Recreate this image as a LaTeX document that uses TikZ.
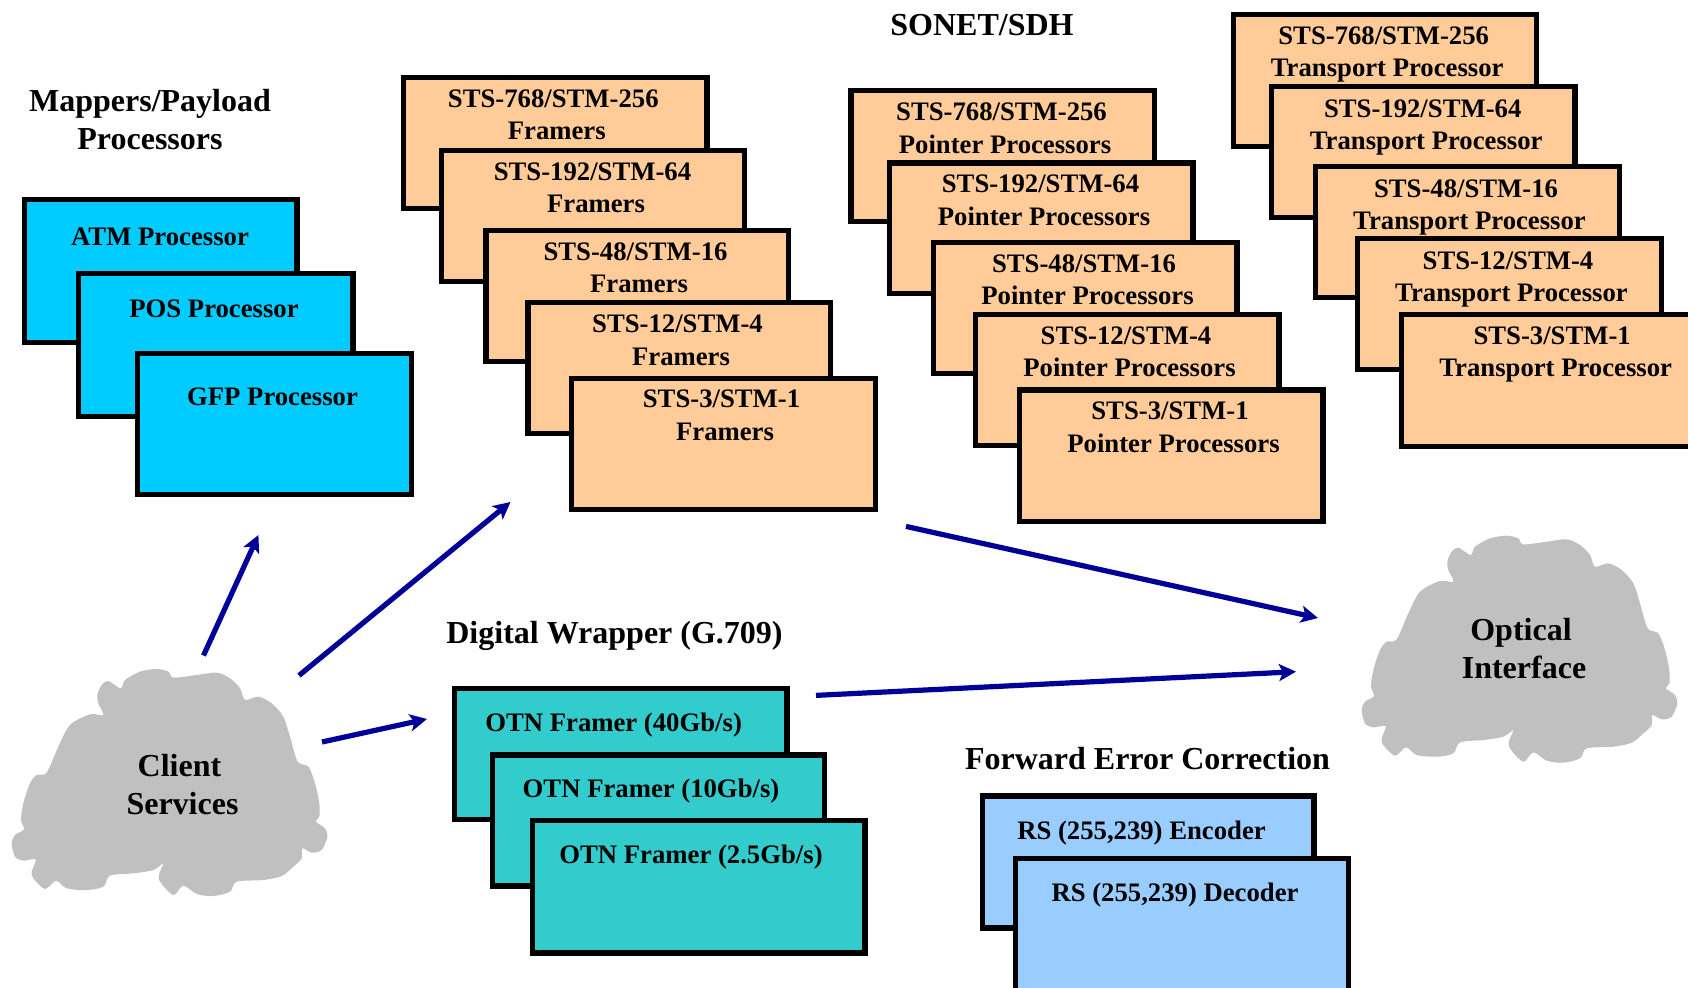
\documentclass[tikz,border=0pt]{standalone}
\usepackage{fontspec}
\setmainfont{Liberation Serif}
\usetikzlibrary{arrows.meta}
\definecolor{orangefill}{HTML}{FFCC99}
\definecolor{cyanfill}{HTML}{00CCFF}
\definecolor{tealfill}{HTML}{33CCCC}
\definecolor{skyfill}{HTML}{99CCFF}
\definecolor{cloudgray}{HTML}{C0C0C0}
\definecolor{arrowblue}{HTML}{000099}
\newcommand{\boxlabelstrut}{\rule{0pt}{10pt}}
\newcommand{\lineshift}{\hspace*{3.5pt}}
% name, fill, L, T, R, B, text cx, baseline offset, text
\newcommand{\stackbox}[9]{%
  \pgfmathsetmacro{\bw}{(#5-#3-5.2)*0.5}%
  \pgfmathsetmacro{\bh}{(#6-#4-5.2)*0.5}%
  \node[stackrect,fill=#2,minimum width=\bw pt,minimum height=\bh pt] (#1) at ({(#3+#5)/2},{(#4+#6)/2}) {};
  \node[boxlabel] (#1-label) at (#7,{#4+#8-19.2}) {\boxlabelstrut #9};
}
\newcommand{\cloudblob}[2]{%
  \begin{scope}[shift={(#1,#2)},x=0.16667pt,y=-0.16667pt]
    \fill[cloudgray] plot[smooth cycle,tension=0.5] coordinates {
      (310,285) (295,250) (292,225) (305,195) (325,183) (362,205) (375,180) (420,155) (470,147) (505,155) (520,173) (590,165) (650,158) (690,175) (720,205) (735,240) (775,230) (815,250) (850,290) (870,350) (893,425) (925,440) (945,490) (958,550) (958,590) (948,605) (975,625) (982,650) (965,690) (935,698) (907,685) (905,715) (880,740) (845,768) (790,780) (710,785) (690,815) (640,828) (590,822) (550,797) (520,825) (480,785) (478,760) (490,730) (460,750) (400,760) (330,767) (310,800) (260,810) (200,805) (168,782) (135,807) (100,775) (95,755) (107,718) (70,722) (45,710) (35,670) (45,645) (72,628) (63,600) (70,550) (90,490) (110,465) (140,458) (175,380) (210,315) (270,283)};
  \end{scope}
}
\tikzset{
  stackrect/.style={draw=black,line width=2.6pt,rectangle,inner sep=0pt,outer sep=0pt},
  boxlabel/.style={anchor=north,inner sep=0pt,align=center,font=\fontsize{13.35}{16.4}\selectfont\bfseries},
  heading/.style={anchor=north,inner sep=0pt,align=center,font=\fontsize{16}{19}\selectfont\bfseries},
  flow/.style={draw=arrowblue,line width=2.6pt,-{Stealth[length=8.5pt,width=8.5pt,inset=2pt]}}
}
\begin{document}
\begin{tikzpicture}[x=0.5pt,y=-0.5pt]
\useasboundingbox (0,0) rectangle (1688,988);
\clip (0,0) rectangle (1688,988);
\fill[white] (0,0) rectangle (1688,988);

% titles
\node[heading] (ttl-sonet) at (982,{35-22}) {\rule{0pt}{11pt}SONET/SDH};
\node[heading] (ttl-map) at (150,{110.5-22}) {\rule{0pt}{11pt}Mappers/Payload\\Processors};
\node[heading] (ttl-dw) at (614.5,{643-22}) {\rule{0pt}{11pt}Digital Wrapper (G.709)};
\node[heading] (ttl-fec) at (1147.5,{768.6-22}) {\rule{0pt}{11pt}Forward Error Correction};

% mappers
\stackbox{b1}{cyanfill}{22}{197}{299.5}{345.5}{160}{47}{ATM Processor}
\stackbox{b2}{cyanfill}{76}{271}{355.5}{419}{214}{45}{POS Processor}
\stackbox{b3}{cyanfill}{134.6}{351}{414}{497.5}{272.5}{53}{GFP Processor}

% framers
\stackbox{f1}{orangefill}{400.5}{75}{709.5}{211.4}{553.3}{31}{STS-768/STM-256\\\lineshift Framers}
\stackbox{f2}{orangefill}{439}{148}{747}{284.5}{592.5}{31}{STS-192/STM-64\\\lineshift Framers}
\stackbox{f3}{orangefill}{483.4}{228}{791.4}{364}{635.5}{31}{STS-48/STM-16\\\lineshift Framers}
\stackbox{f4}{orangefill}{525.3}{300.3}{833.3}{436.3}{677.5}{31}{STS-12/STM-4\\\lineshift Framers}
\stackbox{f5}{orangefill}{569}{375.7}{878}{512.5}{721.5}{31}{STS-3/STM-1\\\lineshift Framers}

% pointer processors
\stackbox{p1}{orangefill}{848.3}{88.3}{1157}{224.3}{1001.5}{31}{STS-768/STM-256\\\lineshift Pointer Processors}
\stackbox{p2}{orangefill}{887}{160.4}{1195.5}{296.4}{1040.5}{31}{STS-192/STM-64\\\lineshift Pointer Processors}
\stackbox{p3}{orangefill}{931}{240}{1239.5}{376}{1084}{31}{STS-48/STM-16\\\lineshift Pointer Processors}
\stackbox{p4}{orangefill}{973}{312}{1281.5}{448}{1126}{31}{STS-12/STM-4\\\lineshift Pointer Processors}
\stackbox{p5}{orangefill}{1017}{387.5}{1325.5}{524}{1170}{31}{STS-3/STM-1\\\lineshift Pointer Processors}

% transport processors
\stackbox{t1}{orangefill}{1231}{12}{1539}{149}{1383.7}{31}{STS-768/STM-256\\\lineshift Transport Processor}
\stackbox{t2}{orangefill}{1269}{84}{1577.5}{220.5}{1422.7}{32}{STS-192/STM-64\\\lineshift Transport Processor}
\stackbox{t3}{orangefill}{1313}{164}{1622}{300.5}{1466}{32}{STS-48/STM-16\\\lineshift Transport Processor}
\stackbox{t4}{orangefill}{1355}{236}{1664}{372.5}{1508}{32}{STS-12/STM-4\\\lineshift Transport Processor}
\stackbox{t5}{orangefill}{1399}{312}{1707}{449}{1552.2}{31}{STS-3/STM-1\\\lineshift Transport Processor}

% OTN
\stackbox{o1}{tealfill}{452}{686}{789.5}{822.5}{613.6}{44}{OTN Framer (40Gb/s)}
\stackbox{o2}{tealfill}{490}{752.5}{827}{888.5}{651}{44}{OTN Framer (10Gb/s)}
\stackbox{o3}{tealfill}{530}{818}{867.5}{955.5}{691}{44}{OTN Framer (2.5Gb/s)}

% FEC
\stackbox{r1}{skyfill}{979.5}{793.5}{1316.6}{930.5}{1141.5}{45}{RS (255,239) Encoder}
\stackbox{r2}{skyfill}{1013}{856}{1351}{1000}{1175}{44}{RS (255,239) Decoder}

% clouds
\cloudblob{0}{620}
\cloudblob{1350}{486.7}
\node[heading] (client) at (179.5,{776-22}) {\rule{0pt}{11pt}Client\\\hspace*{3pt}Services};
\node[heading] (optical) at (1521,{640-22}) {\rule{0pt}{11pt}Optical\\\hspace*{3pt}Interface};

% connector ends
\coordinate (a1s) at (203.5,655.5); \coordinate (a1e) at (258.4,535);
\coordinate (a2s) at (299,675.5);   \coordinate (a2e) at (510.5,502);
\coordinate (a3s) at (322,742);     \coordinate (a3e) at (427,719);
\coordinate (a4s) at (906,526.4);   \coordinate (a4e) at (1318,618);
\coordinate (a5s) at (816,695.4);   \coordinate (a5e) at (1296,671.7);
\draw[flow] (a1s) -- (a1e);
\draw[flow] (a2s) -- (a2e);
\draw[flow] (a3s) -- (a3e);
\draw[flow] (a4s) -- (a4e);
\draw[flow] (a5s) -- (a5e);
\end{tikzpicture}
\end{document}
